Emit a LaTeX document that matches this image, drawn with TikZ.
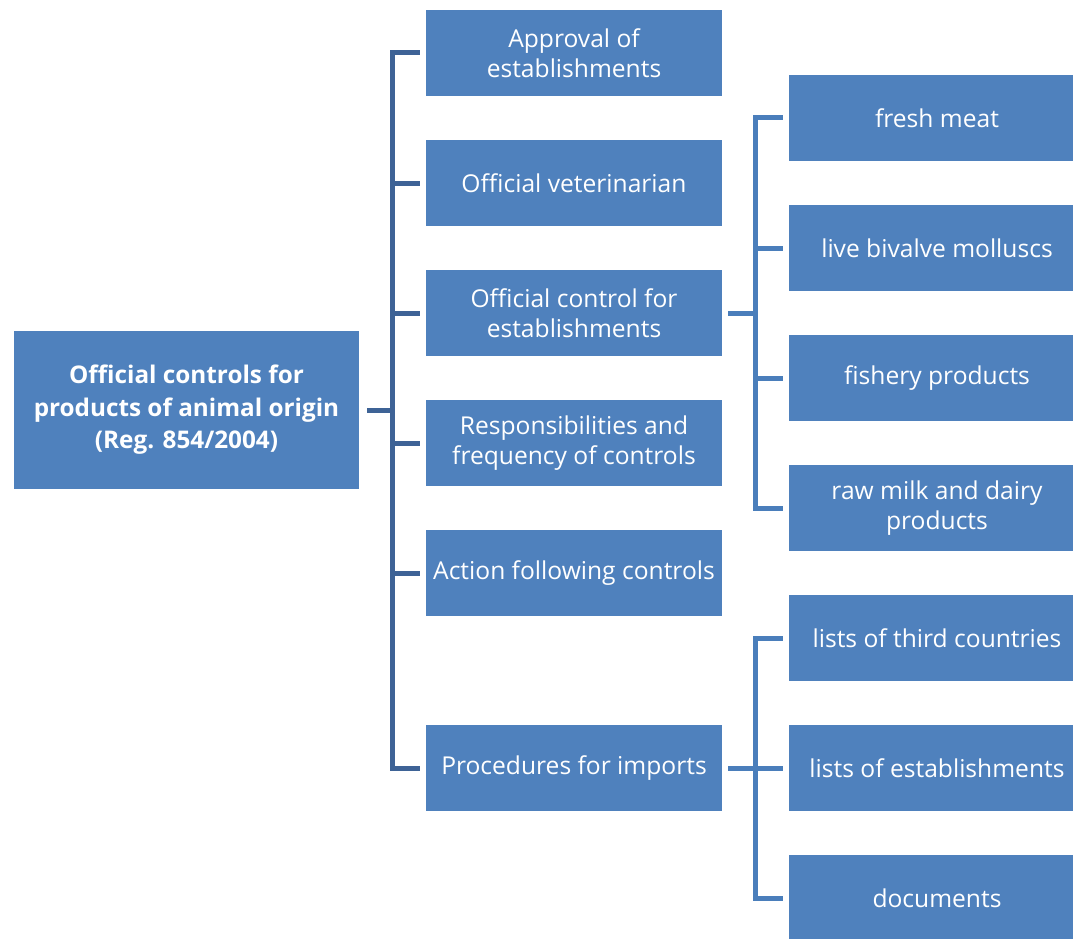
\documentclass[tikz,border=0pt]{standalone}
\usepackage{fontspec}
\setmainfont{Open Sans}
\definecolor{boxblue}{RGB}{79,129,189}
\definecolor{linedark}{RGB}{62,99,150}
\definecolor{linelight}{RGB}{74,126,187}
\tikzset{
  topic/.style={rectangle,fill=boxblue,text=white,inner sep=0pt,align=center,
    minimum width=296pt,minimum height=86pt,font=\fontsize{24.6}{30}\selectfont},
  rootbox/.style={topic,minimum width=345pt,minimum height=158pt,
    font=\fontsize{24.3}{32.5}\selectfont\bfseries},
  conA/.style={linedark,line width=5pt},
  conB/.style={linelight,line width=5pt}
}
\begin{document}
\begin{tikzpicture}[x=1pt,y=-1pt]
      \useasboundingbox (0,0) rectangle (1073,939);
      \clip (0,0) rectangle (1073,939);

      % main topic
      \node[rootbox] (root) at (186.5,410)
           {Official controls for\\products of animal origin\\(Reg. 854/2004)};

      % first level
      \node[topic] (approval) at (574,53) {Approval of\\establishments};
      \node[topic] (vet) at (574,183) {Official veterinarian};
      \node[topic] (control) at (574,313) {Official control for\\establishments};
      \node[topic] (resp) at (574,443) {Responsibilities and\\frequency of controls};
      \node[topic] (action) at (574,573) {Action following controls};
      \node[topic] (imports) at (574,768) {Procedures for imports};

      % second level
      \node[topic] (meat) at (937,118) {fresh meat};
      \node[topic] (bivalve) at (937,248) {live bivalve molluscs};
      \node[topic] (fishery) at (937,378) {fishery products};
      \node[topic] (milk) at (937,508) {raw milk and dairy\\products};
      \node[topic] (third) at (937,638) {lists of third countries};
      \node[topic] (estab) at (937,768) {lists of establishments};
      \node[topic] (docs) at (937,898) {documents};

      \coordinate (busA) at (392,0);
      \coordinate (busB) at (755,0);

      % root bracket
      \draw[conA] ([xshift=8pt]root.east) -- (root.east -| busA);
      \draw[conA] ([xshift=-6pt]approval.west) -| (imports.west -| busA)
           -- ([xshift=-6pt]imports.west);
      \foreach \n in {vet,control,resp,action}
        \draw[conA] (\n.west -| busA) -- ([xshift=-6pt]\n.west);

      % establishments bracket
      \draw[conB] ([xshift=6pt]control.east) -- (control.east -| busB);
      \draw[conB] ([xshift=-6pt]meat.west) -| (milk.west -| busB)
           -- ([xshift=-6pt]milk.west);
      \foreach \n in {bivalve,fishery}
        \draw[conB] (\n.west -| busB) -- ([xshift=-6pt]\n.west);

      % imports bracket
      \draw[conB] ([xshift=6pt]imports.east) -- (imports.east -| busB);
      \draw[conB] ([xshift=-6pt]third.west) -| (docs.west -| busB)
           -- ([xshift=-6pt]docs.west);
      \draw[conB] (estab.west -| busB) -- ([xshift=-6pt]estab.west);
    \end{tikzpicture}
\end{document}
